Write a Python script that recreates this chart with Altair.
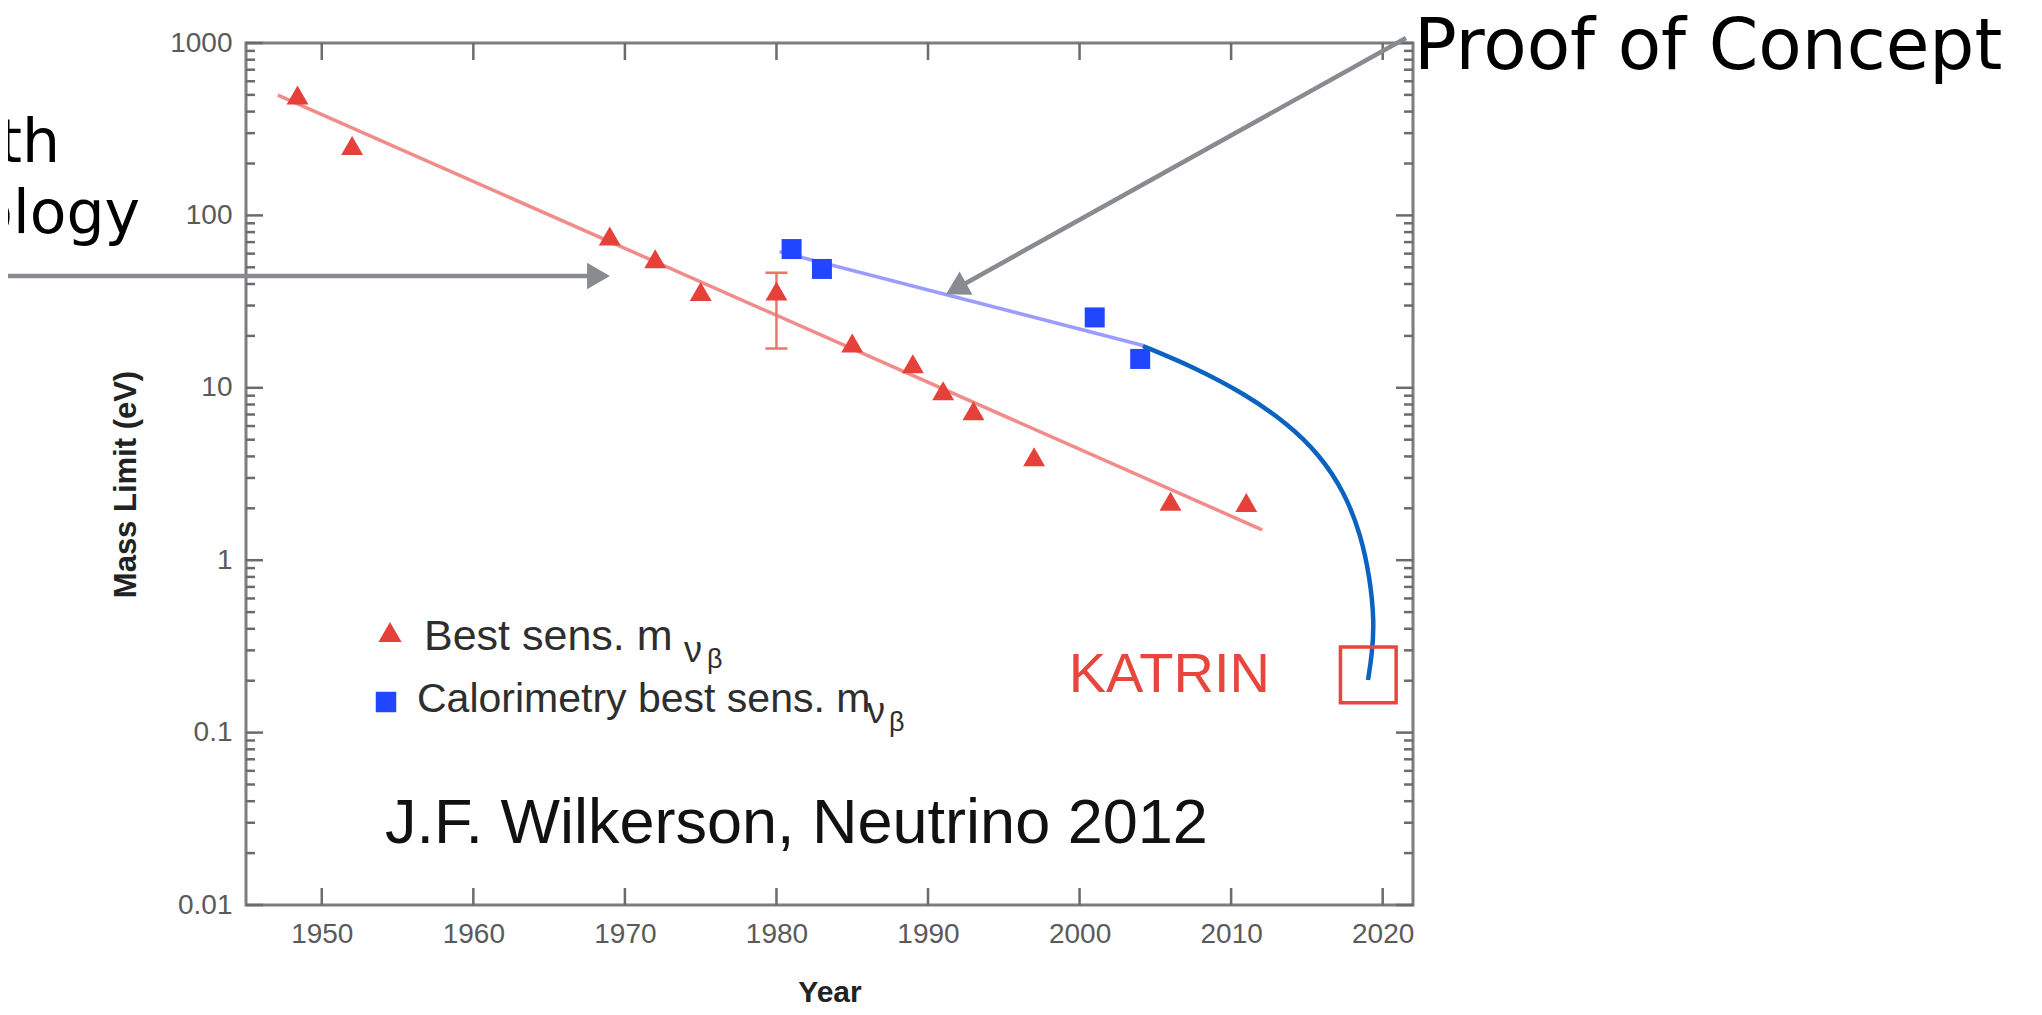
import altair as alt
import pandas as pd

# ---------------- data ----------------
red_years = [1948.4, 1952, 1969, 1972, 1975, 1980, 1985, 1989, 1991, 1993, 1997, 2006, 2011]
red_limits = [500, 254, 76, 56, 36.2, 36.4, 18.2, 13.8, 9.6, 7.36, 3.98, 2.2, 2.16]

err_years = [1980]
err_low = [16.9]
err_high = [46.5]

blue_years = [1981, 1983, 2001, 2004]
blue_limits = [63.8, 48.9, 25.6, 14.7]

red_fit_years = [1947.1, 2012.05]
red_fit_limits = [499, 1.50]

blue_fit_years = [1980.2, 2004.2]
blue_fit_limits = [61.6, 17.6]

curve_years = [2004.18, 2007.68, 2010.91, 2013.68, 2015.86, 2017.51, 2018.56, 2019.16, 2019.45, 2019.29, 2019.03]
curve_limits = [17.48, 13.02, 9.20, 6.25, 4.08, 2.45, 1.40, 0.788, 0.438, 0.282, 0.2019]

katrin_year = [2019.05]
katrin_limit = [0.216]

katrin_label_year = [2012.56]
katrin_label_limit = [0.172]

credit_year = [1954.17]
credit_limit = [0.0229]

x_tick_values = [1950, 1960, 1970, 1980, 1990, 2000, 2010, 2020]
y_major_values = [0.01, 0.1, 1, 10, 100, 1000]
y_minor_values = [2e-2, 3e-2, 4e-2, 5e-2, 6e-2, 7e-2, 8e-2, 9e-2,
                  0.2, 0.3, 0.4, 0.5, 0.6, 0.7, 0.8, 0.9,
                  2, 3, 4, 5, 6, 7, 8, 9,
                  20, 30, 40, 50, 60, 70, 80, 90,
                  200, 300, 400, 500, 600, 700, 800, 900]

# ---------------- styling ----------------
W, H = 1167, 862
RED = "#e6403a"
RED_LIGHT = "#f08c8a"
BLUE = "#2146ff"
BLUE_LIGHT = "#9a9cff"
CURVE = "#0b63c1"
GRAY = "#888b8f"
TICK = "#6b6b6b"

xscale = alt.Scale(domain=[1945, 2022], nice=False, zero=False)
yscale = alt.Scale(type="log", domain=[0.01, 1000], nice=False)

x_axis = alt.Axis(values=x_tick_values, format="d", ticks=False, tickSize=0, domain=False,
                  grid=False, labelFont="Liberation Sans", labelFontSize=28,
                  labelColor="#5a5a5a", labelPadding=15, title="Year",
                  titleFont="Liberation Sans", titleFontSize=30, titleFontWeight="bold",
                  titleColor="#222222", titleX=W / 2, titleY=96, titleAlign="center",
                  titleBaseline="alphabetic")
y_axis = alt.Axis(values=y_major_values, format="~g", ticks=False, tickSize=0, domain=False,
                  grid=False, labelFont="Liberation Sans", labelFontSize=28,
                  labelColor="#5a5a5a", labelPadding=14, title="Mass Limit (eV)",
                  titleFont="Liberation Sans", titleFontSize=31, titleFontWeight="bold",
                  titleColor="#222222", titleX=-120, titleY=H / 2 + 10, titleAngle=270,
                  titleAlign="center", titleBaseline="middle")


def X():
    return alt.X("year:Q", scale=xscale, axis=x_axis)


def Y():
    return alt.Y("mass:Q", scale=yscale, axis=y_axis)


one = alt.Data(values=[{}])

red_df = pd.DataFrame({"year": red_years, "mass": red_limits})
blue_df = pd.DataFrame({"year": blue_years, "mass": blue_limits})
err_df = pd.DataFrame({"year": err_years, "mass": err_low, "high": err_high})
err_caps = pd.DataFrame({"year": err_years * 2, "mass": err_low + err_high})
red_fit = pd.DataFrame({"year": red_fit_years, "mass": red_fit_limits})
blue_fit = pd.DataFrame({"year": blue_fit_years, "mass": blue_fit_limits})
curve_df = pd.DataFrame({"year": curve_years, "mass": curve_limits,
                         "idx": list(range(len(curve_years)))})
katrin_df = pd.DataFrame({"year": katrin_year, "mass": katrin_limit})
katrin_lab = pd.DataFrame({"year": katrin_label_year, "mass": katrin_label_limit, "t": ["KATRIN"]})
credit_df = pd.DataFrame({"year": credit_year, "mass": credit_limit,
                          "t": ["J.F. Wilkerson, Neutrino 2012"]})
xt = pd.DataFrame({"year": x_tick_values})
ymaj = pd.DataFrame({"mass": y_major_values})
ymin = pd.DataFrame({"mass": y_minor_values})

layers = []

# axes carrier (invisible)
layers.append(alt.Chart(red_df).mark_point(opacity=0).encode(x=X(), y=Y()))

# inward ticks
layers.append(alt.Chart(xt).mark_rule(color=TICK, strokeWidth=2.5).encode(
    x=X(), y=alt.value(0), y2=alt.value(17)))
layers.append(alt.Chart(xt).mark_rule(color=TICK, strokeWidth=2.5).encode(
    x=X(), y=alt.value(H), y2=alt.value(H - 17)))
layers.append(alt.Chart(ymaj).mark_rule(color=TICK, strokeWidth=2.5).encode(
    y=Y(), x=alt.value(0), x2=alt.value(17)))
layers.append(alt.Chart(ymin).mark_rule(color=TICK, strokeWidth=2.5).encode(
    y=Y(), x=alt.value(0), x2=alt.value(9)))
layers.append(alt.Chart(ymaj).mark_rule(color=TICK, strokeWidth=2.5).encode(
    y=Y(), x=alt.value(W), x2=alt.value(W - 17)))
layers.append(alt.Chart(ymin).mark_rule(color=TICK, strokeWidth=2.5).encode(
    y=Y(), x=alt.value(W), x2=alt.value(W - 9)))

# fit lines
layers.append(alt.Chart(red_fit).mark_line(color=RED_LIGHT, strokeWidth=3.5).encode(x=X(), y=Y()))
layers.append(alt.Chart(blue_fit).mark_line(color=BLUE_LIGHT, strokeWidth=3.5).encode(x=X(), y=Y()))

# error bar
layers.append(alt.Chart(err_df).mark_rule(color="#ec7570", strokeWidth=2.5).encode(
    x=X(), y=Y(), y2="high:Q"))
layers.append(alt.Chart(err_caps).mark_tick(color="#ec7570", orient="horizontal", size=22,
                                            thickness=2.5, opacity=1).encode(x=X(), y=Y()))

# data points
layers.append(alt.Chart(red_df).mark_point(shape="triangle-up", filled=True, size=480,
                                           color=RED, opacity=1, strokeWidth=0).encode(x=X(), y=Y()))
layers.append(alt.Chart(blue_df).mark_point(shape="square", filled=True, size=400,
                                            color=BLUE, opacity=1, strokeWidth=0).encode(x=X(), y=Y()))

# projection curve to KATRIN
layers.append(alt.Chart(curve_df).mark_line(color=CURVE, strokeWidth=4.5, interpolate="basis",
                                            strokeCap="butt").encode(x=X(), y=Y(), order="idx:Q"))
layers.append(alt.Chart(katrin_df).mark_point(shape="square", filled=False, size=3100,
                                              color="#e8453c", strokeWidth=3.5, opacity=1).encode(x=X(), y=Y()))
layers.append(alt.Chart(katrin_lab).mark_text(align="right", baseline="alphabetic",
                                              font="Liberation Sans", fontSize=56,
                                              color="#e8453c").encode(x=X(), y=Y(), text="t:N"))
layers.append(alt.Chart(credit_df).mark_text(align="left", baseline="alphabetic",
                                             font="Liberation Sans", fontSize=63,
                                             color="#111111").encode(x=X(), y=Y(), text="t:N"))

# legend (drawn by hand for the subscripts)
LEG = "#2e2e2e"
layers.append(alt.Chart(one).mark_point(shape="triangle-up", filled=True, size=540, color=RED,
                                        opacity=1, strokeWidth=0).encode(
    x=alt.value(144), y=alt.value(589)))
layers.append(alt.Chart(one).mark_point(shape="square", filled=True, size=420, color=BLUE,
                                        opacity=1, strokeWidth=0).encode(
    x=alt.value(140), y=alt.value(659)))
legend_texts = [
    ("Best sens. m", 178, 607, 43),
    ("\u03bd", 438, 619, 36),
    ("\u03b2", 461, 625, 27),
    ("Calorimetry best sens. m", 171, 669, 41),
    ("\u03bd", 621, 680, 36),
    ("\u03b2", 643, 688, 27),
]
for t, lx, ly, fs in legend_texts:
    layers.append(alt.Chart(one).mark_text(align="left", baseline="alphabetic",
                                           font="Liberation Sans", fontSize=fs, color=LEG,
                                           text=t).encode(x=alt.value(lx), y=alt.value(ly)))

# slide annotations (arrows and text)
layers.append(alt.Chart(one).mark_rule(color=GRAY, strokeWidth=4.5, strokeCap="butt").encode(
    x=alt.value(-240), x2=alt.value(353), y=alt.value(233)))
layers.append(alt.Chart(one).mark_point(shape="triangle-right", filled=True, size=700, color=GRAY,
                                        opacity=1, strokeWidth=0).encode(
    x=alt.value(352.5), y=alt.value(233)))
layers.append(alt.Chart(one).mark_rule(color=GRAY, strokeWidth=4.5, strokeCap="butt").encode(
    x=alt.value(1160), y=alt.value(-5), x2=alt.value(712), y2=alt.value(244.5)))
layers.append(alt.Chart(one).mark_point(shape="triangle-up", filled=True, size=700, color=GRAY,
                                        opacity=1, strokeWidth=0, angle=240.9).encode(
    x=alt.value(710), y=alt.value(245.7)))
layers.append(alt.Chart(one).mark_text(align="left", baseline="alphabetic", font="DejaVu Sans",
                                       fontSize=71, color="#000000", text="Proof of Concept").encode(
    x=alt.value(1168), y=alt.value(26)))
layers.append(alt.Chart(one).mark_text(align="right", baseline="alphabetic", font="DejaVu Sans",
                                       fontSize=60, color="#000000", text="Steady growth").encode(
    x=alt.value(-186), y=alt.value(119)))
layers.append(alt.Chart(one).mark_text(align="right", baseline="alphabetic", font="DejaVu Sans",
                                       fontSize=60, color="#000000", text="with technology").encode(
    x=alt.value(-106), y=alt.value(190)))

chart = alt.layer(*layers).properties(
    width=W, height=H,
    autosize=alt.AutoSizeParams(type="none"),
    padding={"left": 238, "top": 35, "right": 620, "bottom": 103},
    background="white",
).configure_view(stroke="#7d7d7d", strokeWidth=3)

chart.save("out.html", embed_options={"renderer": "svg", "actions": False})
